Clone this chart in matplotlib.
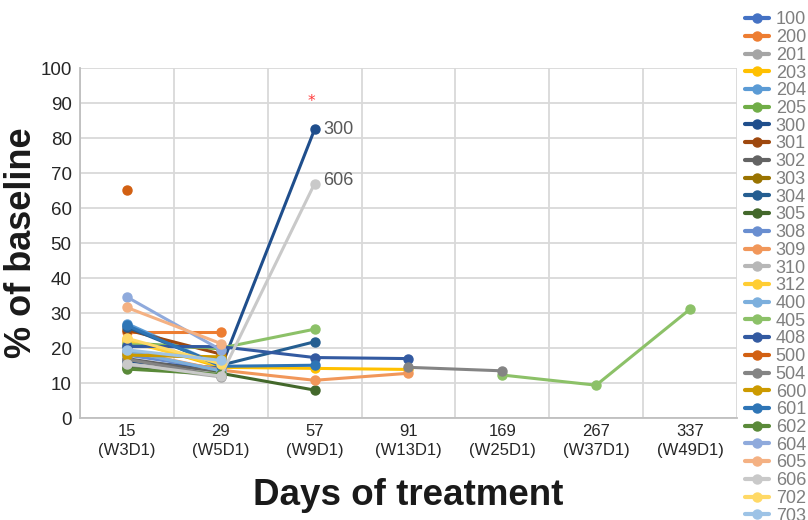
import numpy as np
import matplotlib
matplotlib.use('Agg')
import matplotlib.pyplot as plt

days = ['15\n(W3D1)', '29\n(W5D1)', '57\n(W9D1)', '91\n(W13D1)',
        '169\n(W25D1)', '267\n(W37D1)', '337\n(W49D1)']

N = None
patients = ['100', '200', '201', '203', '204', '205', '300', '301', '302', '303',
            '304', '305', '308', '309', '310', '312', '400', '405', '408', '500',
            '504', '600', '601', '602', '604', '605', '606', '702', '703']

values = {
    '100': [20.5, 20.3],
    '200': [24.7, 24.7],
    '201': [15.0, 11.8],
    '203': [22.5, 14.5, 14.2, 13.9],
    '204': [27.0, 15.0],
    '205': [21.5, 19.8],
    '300': [16.1, 14.3, 82.5],
    '301': [25.2, 18.3],
    '302': [17.0, 13.0],
    '303': [18.5, 17.0],
    '304': [26.0, 15.1, 21.8],
    '305': [14.2, 12.8, 8.0],
    '308': [18.0, 14.0],
    '309': [19.2, 13.7, 10.8, 12.8],
    '310': [15.5, 12.5],
    '312': [22.0, 15.0],
    '400': [19.2, 13.5],
    '405': [21.0, 20.0, 25.4, N, 12.3, 9.4, 31.1],
    '408': [20.5, 20.4, 17.3, 17.0],
    '500': [65.3],
    '504': [16.8, 12.0, N, 14.5, 13.5],
    '600': [18.0, 17.5],
    '601': [26.5, 14.8, 15.1],
    '602': [14.0, 12.5],
    '604': [34.6, 19.5],
    '605': [31.6, 21.3],
    '606': [15.5, 12.0, 67.0],
    '702': [22.8, 15.5],
    '703': [19.5, 16.5],
}

colors = ['#4472C4', '#ED7D31', '#A5A5A5', '#FFC000', '#5B9BD5', '#70AD47',
          '#1F4E8C', '#9E480E', '#636363', '#997300', '#255E91', '#43682B',
          '#698ED0', '#F1975A', '#B7B7B7', '#FFCD33', '#7CAFDD', '#8CC168',
          '#335AA1', '#D26012', '#848484', '#CC9A00', '#2E75B6', '#5A8A39',
          '#8FAADC', '#F4B183', '#C9C9C9', '#FFD966', '#9DC3E6']

font = ['Liberation Sans', 'DejaVu Sans']

fig = plt.figure(figsize=(8.08, 5.2), dpi=100)
ax = fig.add_axes([0.099, 0.196, 0.813, 0.673])

for p, c in zip(patients, colors):
    v = values[p]
    y = np.array([np.nan if a is None else a for a in v], dtype=float)
    x = np.arange(len(y))
    ax.plot(x, y, color=c, lw=2.2, marker='o', ms=6.5, label=p, solid_capstyle='round')

# annotations
ax.text(2.09, values['300'][2], '300', color='#595959', fontsize=13, family=font, va='center')
ax.text(2.09, values['606'][2] + 1, '606', color='#595959', fontsize=13, family=font, va='center')
ax.text(1.97, 90.5, '*', color='#ff3b3b', fontsize=11, ha='center', va='center')

ax.set_xlim(-0.5, 6.5)
ax.set_ylim(0, 100)
ax.set_xticks(range(len(days)))
ax.set_xticklabels(days, family=font, fontsize=12, color='#262626', linespacing=1.4)
ax.set_xticks(np.arange(-0.5, 7, 1), minor=True)
ax.set_yticks(range(0, 101, 10))
ax.set_yticklabels([str(t) for t in range(0, 101, 10)], family=font, fontsize=13.5, color='#262626')
ax.tick_params(which='both', length=0)
ax.tick_params(axis='x', pad=4)
ax.tick_params(axis='y', pad=6)
ax.grid(which='minor', axis='x', color='#d9d9d9', lw=1.3)
ax.grid(which='major', axis='y', color='#d9d9d9', lw=1.3)
ax.grid(which='major', axis='x', visible=False)
ax.set_axisbelow(True)
for s in ['top', 'right']:
    ax.spines[s].set_visible(False)
for s in ['left', 'bottom']:
    ax.spines[s].set_color('#bfbfbf')
    ax.spines[s].set_linewidth(1.3)

ax.set_ylabel('% of baseline', family=font, fontsize=26, fontweight='bold', color='#1a1a1a', labelpad=1)
ax.set_xlabel('Days of treatment', family=font, fontsize=26.5, fontweight='bold', color='#1a1a1a', labelpad=14)

leg = fig.legend(loc='upper left', bbox_to_anchor=(0.922, 0.978), frameon=False,
                 prop={'family': font, 'size': 13}, labelspacing=0.04,
                 handlelength=1.35, handletextpad=0.35, borderaxespad=0, borderpad=0)
for t in leg.get_texts():
    t.set_color('#7f7f7f')
for h in leg.legend_handles:
    h.set_linewidth(3)
    h.set_markersize(6.5)

fig.savefig('out.png', dpi=100)
